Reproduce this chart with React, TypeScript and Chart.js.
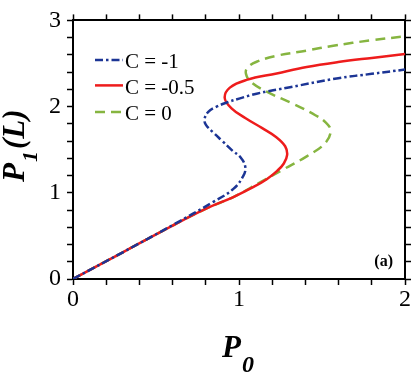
import React, { useEffect, useRef } from "react";
import { Chart, registerables } from "chart.js";

Chart.register(...registerables);

// ---- Data ----
const seriesLabels = ["C = -1", "C = -0.5", "C = 0"];

const blueX = [0, 0.3, 0.6, 0.845, 0.966, 1.026, 1.038, 1.01, 0.96, 0.9, 0.845, 0.8, 0.793, 0.815, 0.86, 0.93, 1.006, 1.106, 1.307, 1.598, 1.8, 2.0];
const blueY = [0, 0.31, 0.625, 0.894, 1.045, 1.196, 1.3, 1.41, 1.49, 1.6, 1.7, 1.79, 1.86, 1.94, 1.995, 2.05, 2.095, 2.15, 2.225, 2.329, 2.38, 2.43];

const redX = [0, 0.3, 0.6, 0.805, 0.966, 1.085, 1.167, 1.23, 1.27, 1.29, 1.278, 1.225, 1.14, 1.04, 0.955, 0.914, 0.945, 1.046, 1.227, 1.408, 1.598, 1.8, 2.0];
const redY = [0, 0.31, 0.62, 0.819, 0.951, 1.065, 1.158, 1.255, 1.34, 1.44, 1.54, 1.645, 1.75, 1.865, 1.98, 2.1, 2.22, 2.31, 2.385, 2.46, 2.517, 2.565, 2.61];

const greenX = [0, 0.3, 0.6, 0.805, 0.966, 1.127, 1.267, 1.408, 1.518, 1.552, 1.52, 1.46, 1.33, 1.17, 1.07, 1.042, 1.05, 1.106, 1.227, 1.408, 1.568, 1.8, 2.0];
const greenY = [0, 0.31, 0.62, 0.819, 0.951, 1.121, 1.272, 1.423, 1.574, 1.72, 1.82, 1.9, 2.03, 2.17, 2.29, 2.38, 2.45, 2.52, 2.59, 2.65, 2.706, 2.77, 2.815];

const xTickLabels = ["0", "1", "2"];
const yTickLabels = ["0", "1", "2", "3"];

const colors = ["#1c3595", "#ee1c1c", "#86b540"];
const dashes = [[8, 3, 2.5, 3], [], [10, 6]];

const toPoints = (xs: number[], ys: number[]) => xs.map((x, i) => ({ x, y: ys[i] }));

const SERIF = "'Liberation Serif', 'Times New Roman', Times, Tinos, serif";

const overlay = {
  id: "overlay",
  afterDraw(chart: any) {
    const ctx: CanvasRenderingContext2D = chart.ctx;
    const { left, top, right, bottom } = chart.chartArea;
    ctx.save();
    // legend
    const rows = [top + 41, top + 66.5, top + 93];
    chart.data.datasets.forEach((ds: any, i: number) => {
      const y = rows[i];
      ctx.strokeStyle = ds.borderColor;
      ctx.lineWidth = 2.5;
      ctx.setLineDash(ds.borderDash || []);
      ctx.beginPath();
      ctx.moveTo(left + 22, y - 1.5);
      ctx.lineTo(left + 50, y - 1.5);
      ctx.stroke();
      ctx.setLineDash([]);
      ctx.fillStyle = "#000";
      ctx.font = `21px ${SERIF}`;
      ctx.textAlign = "left";
      ctx.textBaseline = "alphabetic";
      ctx.fillText(ds.label, left + 52, y + 7);
    });
    // (a)
    ctx.font = `bold 16px ${SERIF}`;
    ctx.textAlign = "right";
    ctx.fillText("(a)", right - 12, bottom - 13);
    // x title
    ctx.textAlign = "left";
    const cx = (left + right) / 2;
    ctx.font = `italic bold 31px ${SERIF}`;
    const pW = ctx.measureText("P").width;
    ctx.fillText("P", cx - 17, 357);
    ctx.font = `italic bold 24px ${SERIF}`;
    ctx.fillText("0", cx - 17 + pW + 1, 372);
    // y title
    ctx.save();
    ctx.translate(24, 182);
    ctx.rotate(-Math.PI / 2);
    ctx.font = `italic bold 31px ${SERIF}`;
    ctx.fillText("P", 0, 0);
    ctx.font = `italic bold 22px ${SERIF}`;
    ctx.fillText("1", pW + 1, 13);
    const w1 = ctx.measureText("1").width;
    ctx.font = `italic bold 31px ${SERIF}`;
    ctx.fillText("(L)", pW + w1 + 3, 0);
    ctx.restore();
    ctx.restore();
  },
};

const intLabel = (arr: string[]) => (v: any) => {
  const n = Number(v);
  if (Math.abs(n - Math.round(n)) < 1e-6) {
    return arr[Math.round(n)] ?? "";
  }
  return "";
};

const gridOpts = {
  drawOnChartArea: false,
  drawTicks: true,
  tickLength: 6,
  tickWidth: 1.5,
  tickColor: "#000",
};
const borderOpts = { display: true, color: "#000", width: 2 };

export default function App() {
  const ref = useRef<HTMLCanvasElement | null>(null);
  useEffect(() => {
    if (!ref.current) return;
    const xsList = [blueX, redX, greenX];
    const ysList = [blueY, redY, greenY];
    const chart = new Chart(ref.current, {
      type: "scatter",
      data: {
        datasets: seriesLabels.map((label, i) => ({
          label,
          data: toPoints(xsList[i], ysList[i]),
          showLine: true,
          borderColor: colors[i],
          backgroundColor: colors[i],
          borderWidth: 2.5,
          borderDash: dashes[i],
          pointRadius: 0,
          pointHoverRadius: 0,
          tension: 0.4,
          fill: false,
          xAxisID: "x",
          yAxisID: "y",
        })),
      },
      options: {
        responsive: false,
        animation: false,
        devicePixelRatio: 1,
        layout: { padding: 0 },
        plugins: { legend: { display: false }, tooltip: { enabled: false } },
        scales: {
          x: {
            type: "linear",
            position: "bottom",
            min: 0,
            max: 2,
            grid: gridOpts,
            border: borderOpts,
            ticks: {
              stepSize: 0.2,
              autoSkip: false,
              maxRotation: 0,
              padding: 0,
              color: "#000",
              font: { family: SERIF, size: 24 },
              callback: intLabel(xTickLabels),
            },
            afterFit: (s: any) => { s.height = 96; },
          },
          x2: {
            type: "linear",
            position: "top",
            min: 0,
            max: 2,
            grid: gridOpts,
            border: borderOpts,
            ticks: { stepSize: 0.2, autoSkip: false, display: false },
            afterFit: (s: any) => { s.height = 14; },
          },
          y: {
            type: "linear",
            position: "left",
            min: 0,
            max: 3,
            grid: gridOpts,
            border: borderOpts,
            ticks: {
              stepSize: 0.2,
              autoSkip: false,
              padding: 6,
              color: "#000",
              font: { family: SERIF, size: 24 },
              callback: intLabel(yTickLabels),
            },
            afterFit: (s: any) => { s.width = 73; },
          },
          y2: {
            type: "linear",
            position: "right",
            min: 0,
            max: 3,
            grid: gridOpts,
            border: borderOpts,
            ticks: { stepSize: 0.2, autoSkip: false, display: false },
            afterFit: (s: any) => { s.width = 10; },
          },
        },
      } as any,
      plugins: [overlay],
    });
    return () => chart.destroy();
  }, []);
  return (
    <div style={{ position: "fixed", left: 0, top: 0, width: 415, height: 375, background: "#fff" }}>
      <canvas ref={ref} width={415} height={375} style={{ display: "block" }} />
    </div>
  );
}
